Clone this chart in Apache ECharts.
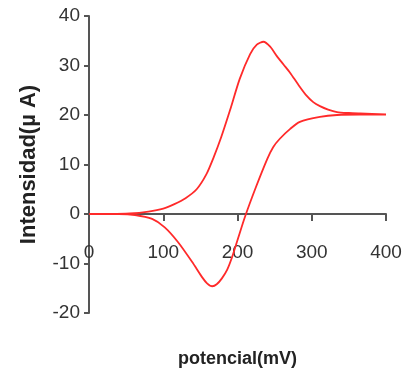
<!DOCTYPE html>
<html>
<head>
  <meta charset="UTF-8">
  <title>potencial vs intensidad</title>
  <script src="https://cdn.jsdelivr.net/npm/echarts@6/dist/echarts.min.js"></script>
  <style>
    html, body { margin: 0; padding: 0; background: #fff; }
    #main { width: 403px; height: 374px; }
  </style>
</head>
<body>
<div id="main"></div>
<script>
  // barrido de ida (potencial mV, intensidad uA)
  var forwardX = [0, 30, 55, 80, 100, 115, 130, 145, 158, 168, 178, 190, 203, 217, 226, 235, 244, 253, 262, 271, 282, 293, 302, 311, 322, 334, 350, 365, 400];
  var forwardY = [0, 0, 0.1, 0.5, 1.1, 2, 3.2, 5, 8, 11.5, 15.5, 21, 27.3, 32.3, 34.2, 34.8, 33.8, 31.9, 30.2, 28.5, 26.1, 23.9, 22.6, 21.8, 21.1, 20.6, 20.4, 20.3, 20.1];
  // barrido de vuelta
  var reverseX = [400, 365, 334, 311, 284, 271, 257, 248, 240, 225, 210, 201, 193, 186, 179, 172, 166, 159, 152, 139, 120, 102, 85, 62, 40, 0];
  var reverseY = [20.1, 20.1, 20, 19.6, 18.6, 17.2, 15.2, 13.5, 11.1, 5.5, -0.6, -4.8, -8.6, -11.3, -13, -14.2, -14.6, -14, -12.7, -9.7, -5.7, -2.7, -1, -0.2, 0, 0];

  var xTicks = [0, 100, 200, 300, 400];
  var yTicks = [-20, -10, 0, 10, 20, 30, 40];

  // armar los pares [x, y]
  var loop = [];
  for (var i = 0; i < forwardX.length; i++) loop.push([forwardX[i], forwardY[i]]);
  for (var j = 1; j < reverseX.length; j++) loop.push([reverseX[j], reverseY[j]]);

  var myChart = echarts.init(document.getElementById('main'));
  var option = {
    animation: false,
    backgroundColor: '#ffffff',
    grid: { left: 89, right: 17, top: 16, bottom: 61, outerBoundsMode: 'none', containLabel: false },
    xAxis: {
      type: 'value',
      min: xTicks[0],
      max: xTicks[xTicks.length - 1],
      interval: 100,
      name: 'potencial(mV)',
      nameLocation: 'middle',
      nameGap: 37,
      nameTextStyle: { fontFamily: 'Liberation Sans', fontSize: 18, fontWeight: 'bold', color: '#222' },
      axisLine: { onZero: true, lineStyle: { color: '#555', width: 2 } },
      axisTick: { length: 7, lineStyle: { color: '#555', width: 2 } },
      axisLabel: { margin: -70, fontFamily: 'Liberation Sans', fontSize: 19, color: '#333' },
      splitLine: { show: false }
    },
    yAxis: {
      type: 'value',
      min: yTicks[0],
      max: yTicks[yTicks.length - 1],
      interval: 10,
      name: 'Intensidad(\u00b5 A)',
      nameLocation: 'middle',
      nameRotate: 90,
      nameGap: 49,
      nameTextStyle: { fontFamily: 'Liberation Sans', fontSize: 22, fontWeight: 'bold', color: '#222' },
      axisLine: { show: true, lineStyle: { color: '#555', width: 2 } },
      axisTick: { show: true, length: 5, lineStyle: { color: '#555', width: 2 } },
      axisLabel: { margin: 9, fontFamily: 'Liberation Sans', fontSize: 19, color: '#333' },
      splitLine: { show: false }
    },
    series: [{
      type: 'line',
      data: loop,
      smooth: 0.25,
      showSymbol: false,
      lineStyle: { color: '#ff2a2a', width: 1.8 }
    }]
  };
  myChart.setOption(option);
</script>
</body>
</html>
